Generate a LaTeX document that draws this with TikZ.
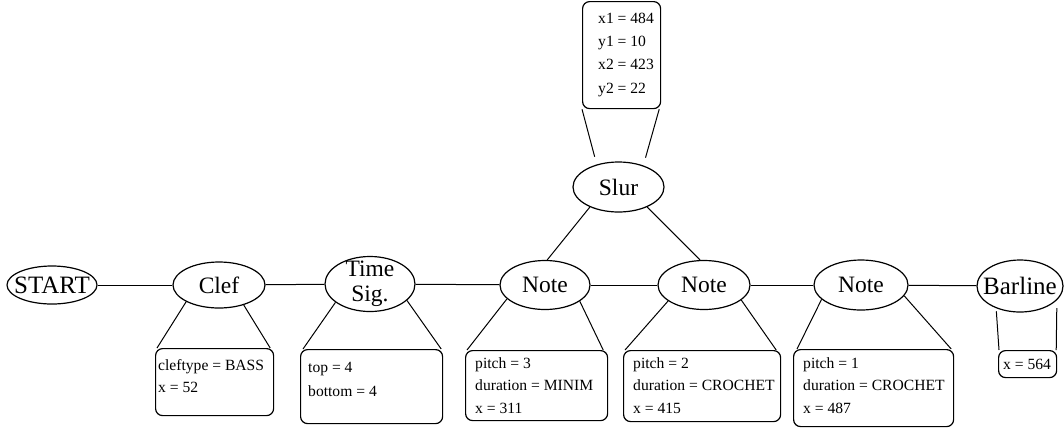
\documentclass[tikz,border=0pt]{standalone}
\usepackage{fontspec}
\setmainfont{Liberation Serif}
\usetikzlibrary{shapes.geometric}
\begin{document}
\begin{tikzpicture}[x=1pt,y=-1pt,
  ell/.style={ellipse, draw, line width=1.2pt, inner sep=-30pt, align=center,
    font=\fontsize{23.5}{25}\selectfont},
  bigell/.style={font=\fontsize{25}{25}\selectfont},
  conn/.style={line width=1pt},
  attrbox/.style={draw, line width=1.2pt, rounded corners=7pt, anchor=north west, inner sep=0pt},
  attrtext/.style={anchor=north west, inner sep=0pt, align=left,
    font=\fontsize{15.6}{22.5}\selectfont}]
\useasboundingbox (0,0) rectangle (1064,432);

% ellipses
\node[ell, bigell, minimum width=90pt, minimum height=38pt] (start) at (52,285) {START};
\node[ell, minimum width=92pt, minimum height=46pt] (clef) at (219,285) {Clef};
\node[ell, minimum width=90pt, minimum height=55pt] (time) at (370,284) {Time\\Sig.};
\node[ell, minimum width=90pt, minimum height=49pt] (note1) at (545,285) {Note};
\node[ell, minimum width=92pt, minimum height=49pt] (note2) at (704,285) {Note};
\node[ell, minimum width=94pt, minimum height=50pt] (note3) at (861,285) {Note};
\node[ell, bigell, minimum width=86pt, minimum height=52pt] (barline) at (1020,286) {Barline};
\node[ell, minimum width=91pt, minimum height=50pt] (slur) at (618.5,187) {Slur};

% attribute boxes
\node[attrbox, minimum width=118pt, minimum height=67pt] (clefbox) at (155,348) {};
\node[attrtext] (cleftext) at (158,359) {\rule{0pt}{11pt}cleftype = BASS\\x = 52};

\node[attrbox, minimum width=142pt, minimum height=74pt] (timebox) at (300,349) {};
\node[attrtext, font=\fontsize{15.6}{24}\selectfont] (timetext) at (308,361) {\rule{0pt}{11pt}top = 4\\bottom = 4};

\node[attrbox, minimum width=142pt, minimum height=70pt] (note1box) at (465,350) {};
\node[attrtext] (note1text) at (475,357) {\rule{0pt}{11pt}pitch = 3\\duration = MINIM\\x = 311};

\node[attrbox, minimum width=157pt, minimum height=71pt] (note2box) at (623,350) {};
\node[attrtext] (note2text) at (633,357) {\rule{0pt}{11pt}pitch = 2\\duration = CROCHET\\x = 415};

\node[attrbox, minimum width=160pt, minimum height=77pt] (note3box) at (793,349) {};
\node[attrtext] (note3text) at (803,357) {\rule{0pt}{11pt}pitch = 1\\duration = CROCHET\\x = 487};

\node[attrbox, minimum width=58pt, minimum height=27pt] (barbox) at (998,350) {};
\node[attrtext] (bartext) at (1003,358) {\rule{0pt}{11pt}x = 564};

\node[attrbox, minimum width=78pt, minimum height=107pt] (slurbox) at (582,1) {};
\node[attrtext, font=\fontsize{15.6}{23.3}\selectfont] (slurtext) at (598,12) {\rule{0pt}{11pt}x1 = 484\\y1 = 10\\x2 = 423\\y2 = 22};

% chain
\draw[conn] (start) -- (clef);
\draw[conn] (clef) -- (time);
\draw[conn] (time) -- (note1);
\draw[conn] (note1) -- (note2);
\draw[conn] (note2) -- (note3);
\draw[conn] (note3) -- (barline);

% slur links
\draw[conn] (slur.-145) -- (note1.85);
\draw[conn] (slur.-35) -- (note2.99);

% funnels
\draw[conn] (clef.-153) -- ([xshift=2pt]clefbox.north west);
\draw[conn] (clef.-39) -- ([xshift=-4pt]clefbox.north east);
\draw[conn] (time.-152) -- ([xshift=3pt]timebox.north west);
\draw[conn] (time.-24) -- ([xshift=-2pt]timebox.north east);
\draw[conn] (note1.-160) -- ([xshift=2pt]note1box.north west);
\draw[conn] (note1.-25) -- ([xshift=-5pt]note1box.north east);
\draw[conn] (note2.-156) -- ([xshift=2pt]note2box.north west);
\draw[conn] (note2.-22) -- ([xshift=-5pt]note2box.north east);
\draw[conn] (note3.-160) -- ([xshift=4pt]note3box.north west);
\draw[conn] (note3.-14) -- ([xshift=-3pt]note3box.north east);
\draw[conn, shorten <=3pt] (barline.-137) -- ([xshift=1pt]barbox.north west);
\draw[conn, shorten <=8pt] (barline.-21) -- ([xshift=-1pt]barbox.north east);
\draw[conn, shorten <=8pt] (slur.134) -- (slurbox.south west);
\draw[conn, shorten <=8pt] (slur.41) -- ([xshift=-2pt]slurbox.south east);
\end{tikzpicture}
\end{document}
